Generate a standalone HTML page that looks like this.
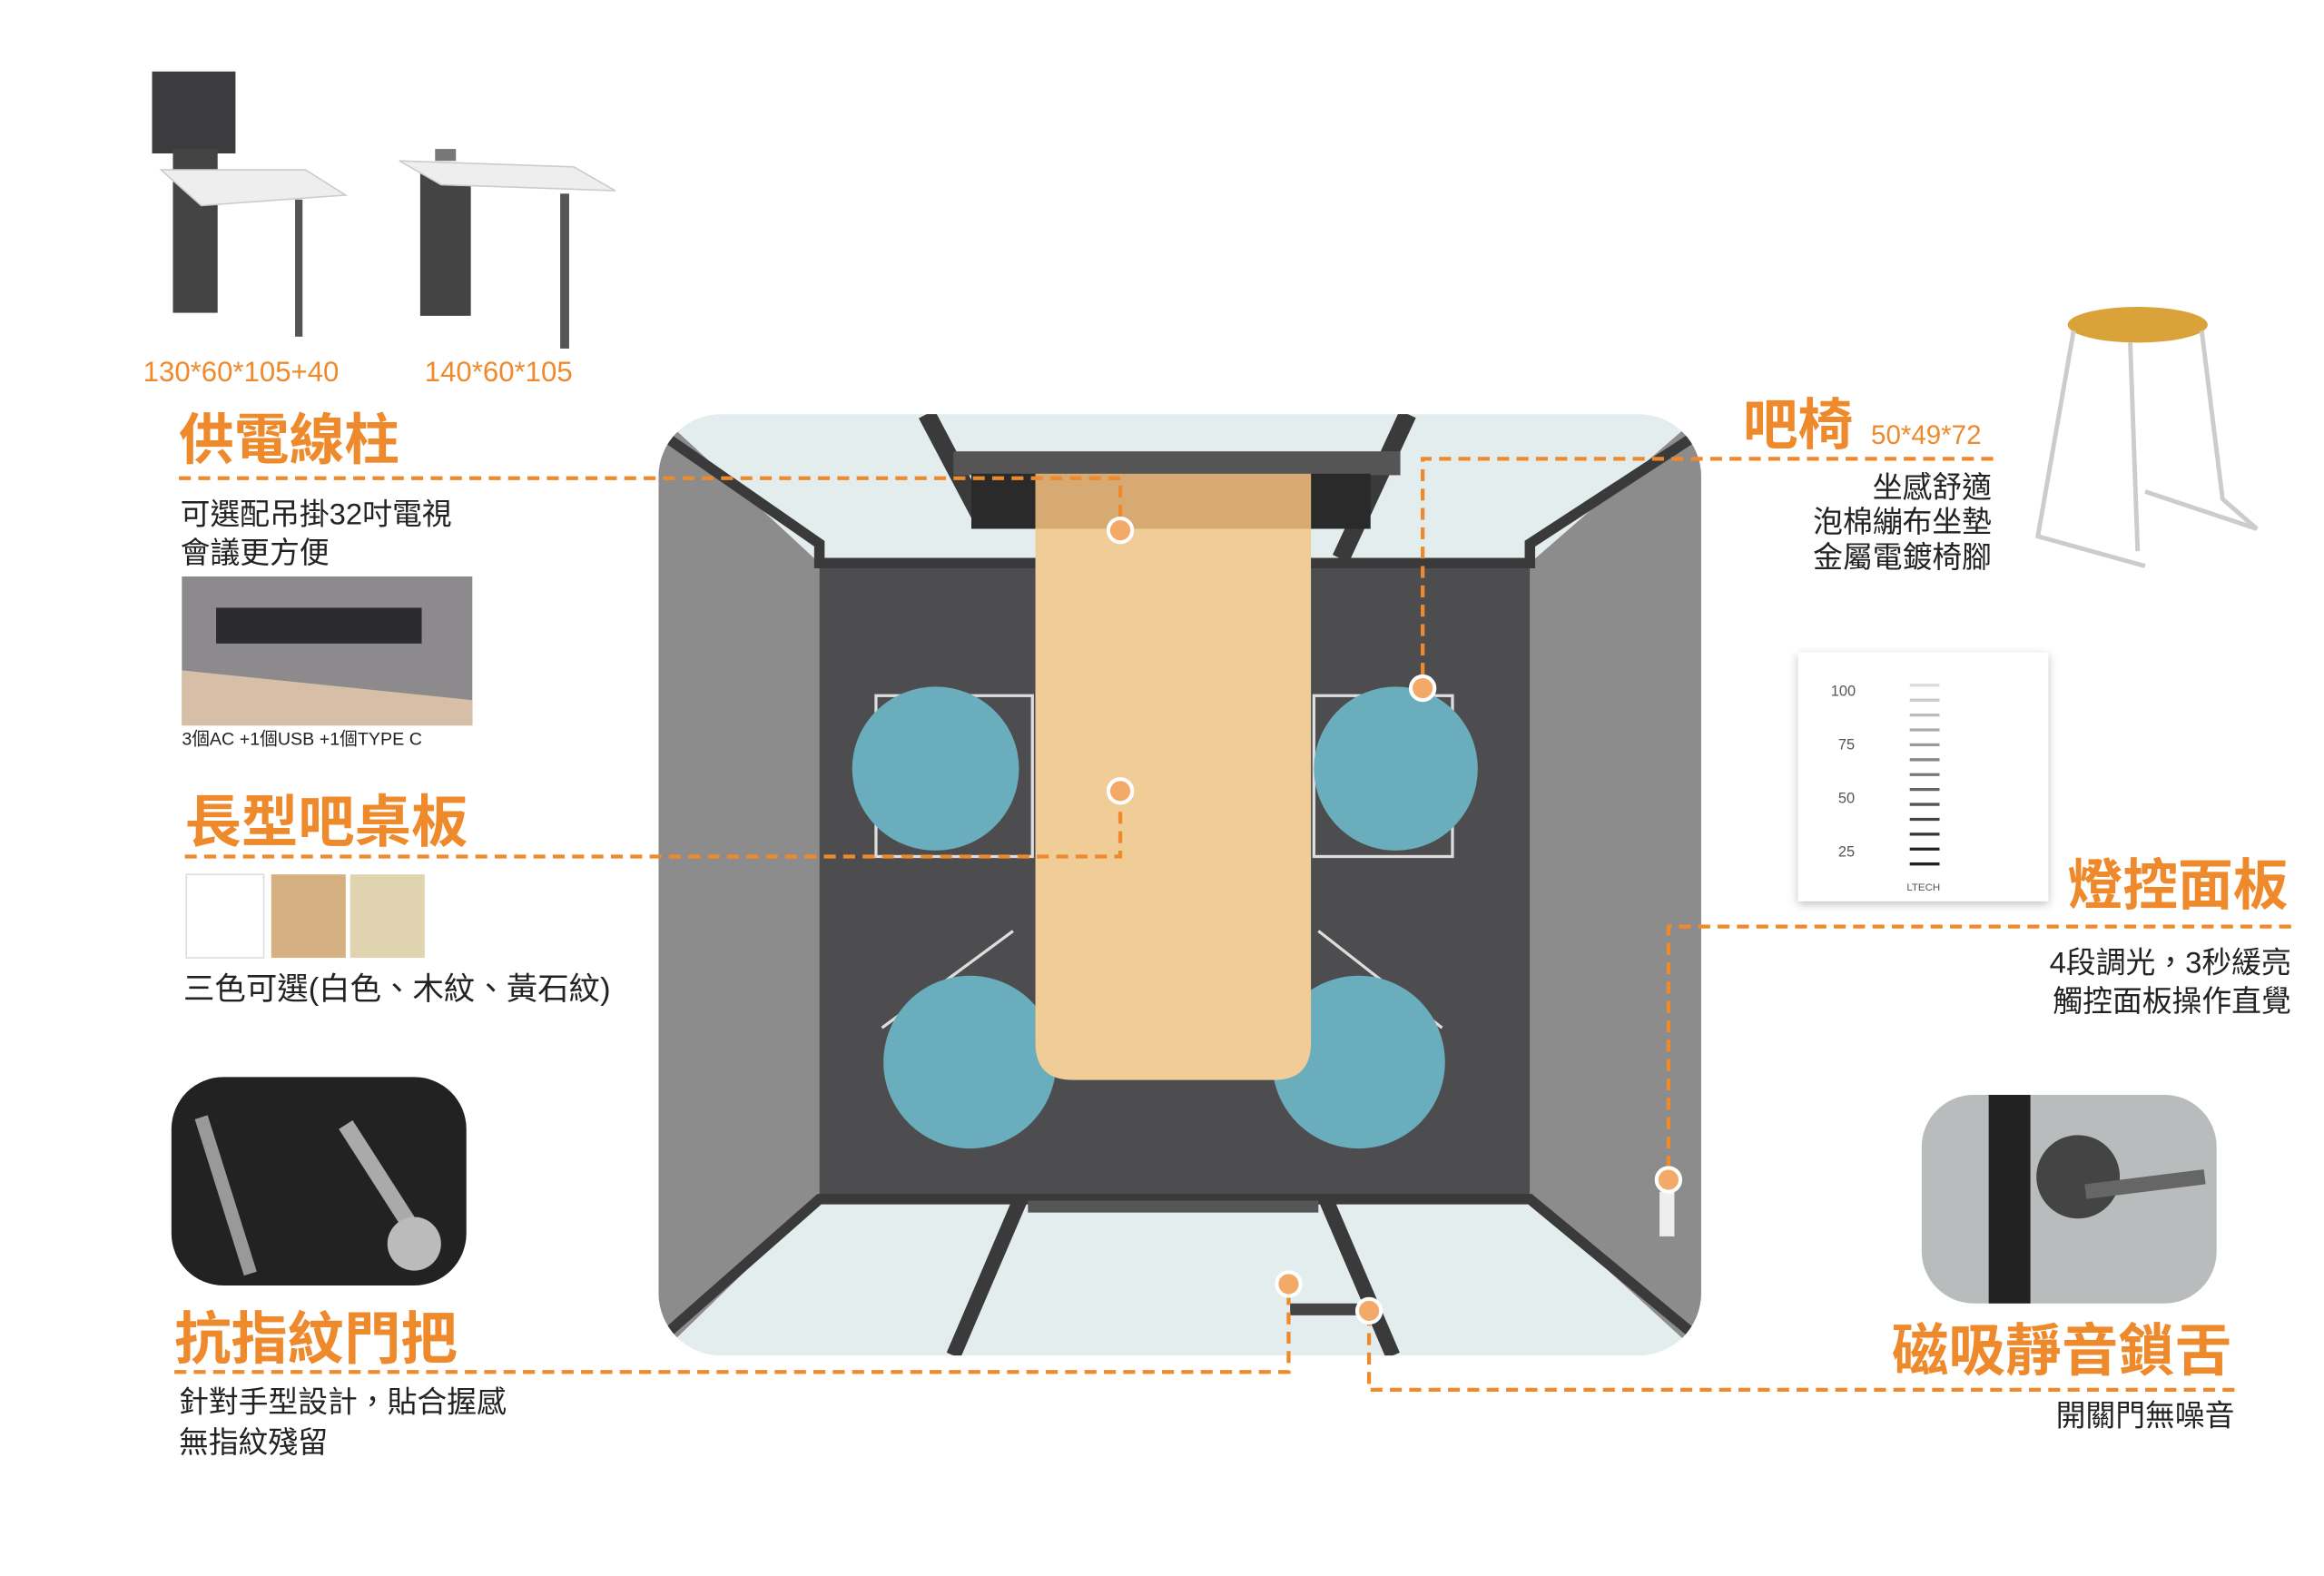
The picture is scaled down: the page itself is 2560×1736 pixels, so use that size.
<!DOCTYPE html>
<html><head><meta charset="utf-8"><style>
html,body{margin:0;padding:0;background:#fff;}
svg{display:block;}
text{font-family:"Liberation Sans","Noto Sans CJK TC",sans-serif;}
.o{fill:#ee8a2c;font-weight:bold;}
.t{fill:#222;font-size:20px;}
.d{stroke:#ee8a2c;stroke-width:2.6;stroke-dasharray:8 5;fill:none;}
.dot{fill:#f3a968;stroke:#fff;stroke-width:2.5;}
</style></head><body>
<svg width="2560" height="1736" viewBox="0 0 1560 1058" xmlns="http://www.w3.org/2000/svg">
<defs>
<clipPath id="room"><rect x="442" y="278" width="700" height="632" rx="42"/></clipPath>
<filter id="sh" x="-10%" y="-10%" width="120%" height="120%"><feDropShadow dx="0" dy="2" stdDeviation="3" flood-opacity="0.25"/></filter>
</defs>
<rect width="1560" height="1058" fill="#fff"/>

<!-- desks top-left -->
<rect x="102" y="48" width="56" height="55" fill="#3c3c3e"/>
<rect x="116" y="100" width="30" height="110" fill="#444"/>
<polygon points="108,114 205,114 232,131 135,138" fill="#eeeeee" stroke="#ccc"/>
<rect x="198" y="134" width="5" height="92" fill="#555"/>
<rect x="282" y="112" width="34" height="100" fill="#444"/>
<polygon points="268,108 385,112 413,128 296,124" fill="#eeeeee" stroke="#ccc"/>
<rect x="292" y="100" width="14" height="8" fill="#777"/>
<rect x="376" y="130" width="6" height="104" fill="#555"/>
<text x="96" y="256" style="fill:#ee8a2c;font-size:19px">130*60*105+40</text>
<text x="285" y="256" style="fill:#ee8a2c;font-size:19px">140*60*105</text>

<!-- room -->
<g clip-path="url(#room)">
<rect x="442" y="278" width="700" height="632" fill="#e4eded"/>
<polygon points="442,278 550,378 550,805 442,910" fill="#8c8c8c"/>
<polygon points="1142,278 1027,378 1027,805 1142,910" fill="#8c8c8c"/>
<rect x="550" y="378" width="477" height="427" fill="#4d4d4f"/>
<polyline points="442,290 550,365 550,378 1027,378 1027,365 1142,290" fill="none" stroke="#3a3a3a" stroke-width="7"/>
<polyline points="442,900 550,805 1027,805 1142,900" fill="none" stroke="#3a3a3a" stroke-width="7"/>
<line x1="622" y1="278" x2="660" y2="350" stroke="#3a3a3a" stroke-width="12"/>
<line x1="945" y1="278" x2="900" y2="375" stroke="#3a3a3a" stroke-width="12"/>
<rect x="640" y="303" width="300" height="16" fill="#555"/>
<rect x="652" y="318" width="43" height="37" fill="#2a2a2a"/>
<rect x="880" y="318" width="40" height="37" fill="#2a2a2a"/>
<rect x="695" y="318" width="185" height="37" fill="#d6aa72"/>
<line x1="685" y1="805" x2="640" y2="910" stroke="#3a3a3a" stroke-width="10"/>
<line x1="890" y1="805" x2="935" y2="910" stroke="#3a3a3a" stroke-width="10"/>
<rect x="690" y="806" width="195" height="8" fill="#555"/>
<!-- chair frames -->
<g stroke="#ddd" stroke-width="2" fill="none">
<rect x="588" y="467" width="105" height="108"/>
<rect x="882" y="467" width="93" height="108"/>
<line x1="592" y1="690" x2="680" y2="625"/>
<line x1="968" y1="690" x2="885" y2="625"/>
</g>
<ellipse cx="628" cy="516" rx="56" ry="55" fill="#6aaebd"/>
<ellipse cx="937" cy="516" rx="55" ry="55" fill="#6aaebd"/>
<ellipse cx="651" cy="713" rx="58" ry="58" fill="#6aaebd"/>
<ellipse cx="912" cy="713" rx="58" ry="58" fill="#6aaebd"/>
<path d="M695,355 H880 V700 Q880,725 855,725 H720 Q695,725 695,700 Z" fill="#f0cd96"/>
<rect x="1114" y="800" width="10" height="30" fill="#eee"/>
<rect x="866" y="875" width="45" height="8" fill="#444"/>
</g>

<!-- connectors -->
<path class="d" d="M120,321 H752 V356"/>
<circle class="dot" cx="752" cy="356" r="8"/>
<path class="d" d="M124,575 H752 V531"/>
<circle class="dot" cx="752" cy="531" r="8"/>
<path class="d" d="M117,921 H865 V863"/>
<circle class="dot" cx="865" cy="862" r="8"/>
<path class="d" d="M1338,308 H955 V462"/>
<circle class="dot" cx="955" cy="462" r="8"/>
<path class="d" d="M1538,622 H1120 V792"/>
<circle class="dot" cx="1120" cy="792" r="8"/>
<path class="d" d="M1500,933 H919 V880"/>
<circle class="dot" cx="919" cy="880" r="8"/>

<!-- left labels -->
<text x="120" y="308" class="o" style="font-size:37px">供電線柱</text>
<text x="121" y="352" class="t">可選配吊掛32吋電視</text>
<text x="121" y="378" class="t">會議更方便</text>
<rect x="122" y="387" width="195" height="100" fill="#8c8a8c"/>
<polygon points="122,450 317,470 317,487 122,487" fill="#d6bfa6"/>
<rect x="145" y="408" width="138" height="24" fill="#2b2b2d"/>
<text x="122" y="500" style="font-size:12px;fill:#222">3個AC +1個USB +1個TYPE C</text>
<text x="124" y="565" class="o" style="font-size:38px">長型吧桌板</text>
<rect x="125" y="587" width="52" height="56" fill="#fff" stroke="#ddd"/>
<rect x="182" y="587" width="50" height="56" fill="#d5b081"/>
<rect x="235" y="587" width="50" height="56" fill="#e0d3b0"/>
<text x="123" y="671" class="t" style="font-size:21px">三色可選(白色、木紋、黃石紋)</text>
<rect x="115" y="723" width="198" height="140" rx="35" fill="#222"/>
<line x1="135" y1="750" x2="168" y2="855" stroke="#999" stroke-width="9"/>
<line x1="232" y1="755" x2="280" y2="830" stroke="#aaa" stroke-width="11"/>
<circle cx="278" cy="835" r="18" fill="#bbb"/>
<text x="117" y="912" class="o" style="font-size:38px">抗指紋門把</text>
<text x="120" y="948" class="t">針對手型設計，貼合握感</text>
<text x="120" y="975" class="t">無指紋殘留</text>

<!-- right labels -->
<text x="1170" y="298" class="o" style="font-size:37px">吧椅</text>
<text x="1256" y="298" style="fill:#ee8a2c;font-size:18px">50*49*72</text>
<text x="1337" y="334" class="t" text-anchor="end">坐感舒適</text>
<text x="1337" y="357" class="t" text-anchor="end">泡棉繃布坐墊</text>
<text x="1337" y="381" class="t" text-anchor="end">金屬電鍍椅腳</text>
<ellipse cx="1435" cy="218" rx="47" ry="12" fill="#d9a33a"/>
<g stroke="#ccc" stroke-width="3" fill="none">
<path d="M1392,222 L1368,360 L1440,380"/>
<path d="M1478,222 L1492,335 L1515,355 L1440,330"/>
<path d="M1430,230 L1435,370"/>
</g>
<rect x="1207" y="438" width="168" height="167" fill="#fff" filter="url(#sh)"/>
<g style="font-size:10px;fill:#555">
<text x="1229" y="467">100</text><text x="1234" y="503">75</text><text x="1234" y="539">50</text><text x="1234" y="575">25</text>
<text x="1280" y="598" style="font-size:7px">LTECH</text>
</g>
<g stroke="#222" stroke-width="2">
<line x1="1282" y1="460" x2="1302" y2="460" stroke="#ddd"/><line x1="1282" y1="470" x2="1302" y2="470" stroke="#ccc"/>
<line x1="1282" y1="480" x2="1302" y2="480" stroke="#bbb"/><line x1="1282" y1="490" x2="1302" y2="490" stroke="#aaa"/>
<line x1="1282" y1="500" x2="1302" y2="500" stroke="#999"/><line x1="1282" y1="510" x2="1302" y2="510" stroke="#888"/>
<line x1="1282" y1="520" x2="1302" y2="520" stroke="#777"/><line x1="1282" y1="530" x2="1302" y2="530" stroke="#666"/>
<line x1="1282" y1="540" x2="1302" y2="540" stroke="#555"/><line x1="1282" y1="550" x2="1302" y2="550" stroke="#444"/>
<line x1="1282" y1="560" x2="1302" y2="560" stroke="#333"/><line x1="1282" y1="570" x2="1302" y2="570"/>
<line x1="1282" y1="580" x2="1302" y2="580"/>
</g>
<text x="1388" y="607" class="o" style="font-size:37px">燈控面板</text>
<text x="1538" y="653" class="t" text-anchor="end">4段調光，3秒緩亮</text>
<text x="1538" y="679" class="t" text-anchor="end">觸控面板操作直覺</text>
<rect x="1290" y="735" width="198" height="140" rx="35" fill="#b9bcbc"/>
<rect x="1335" y="735" width="28" height="140" fill="#222"/>
<circle cx="1395" cy="790" r="28" fill="#444"/>
<line x1="1400" y1="800" x2="1480" y2="790" stroke="#666" stroke-width="10"/>
<text x="1270" y="920" class="o" style="font-size:38px">磁吸靜音鎖舌</text>
<text x="1500" y="957" class="t" text-anchor="end">開關門無噪音</text>
</svg>
</body></html>
